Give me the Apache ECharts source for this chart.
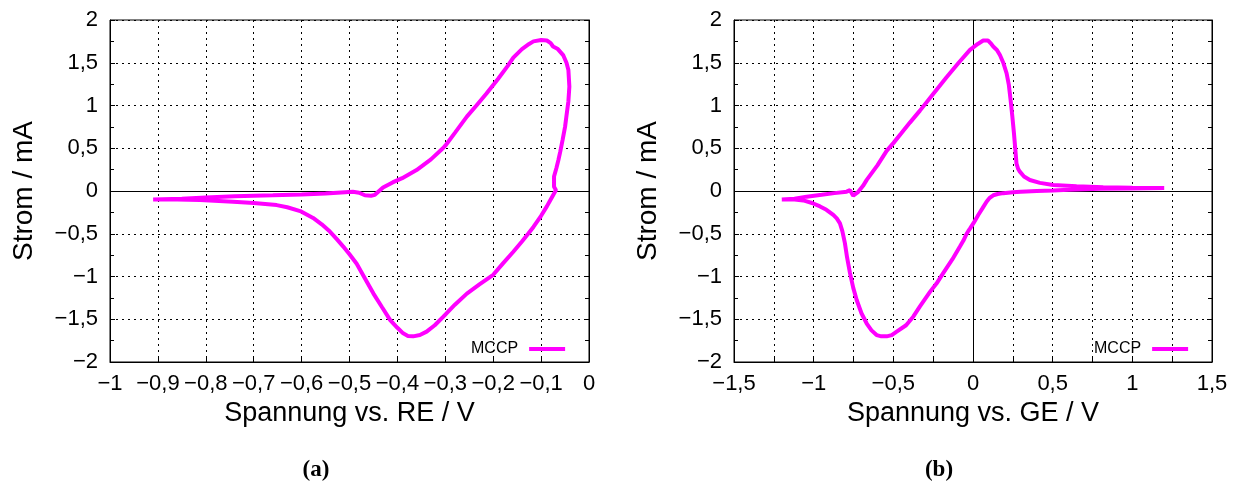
<!DOCTYPE html>
<html>
<head>
<meta charset="utf-8">
<script src="https://cdn.jsdelivr.net/npm/echarts@6/dist/echarts.min.js"></script>
<style>
  html, body { margin: 0; padding: 0; background: #fff; }
  #chart { width: 1237px; height: 483px; }
</style>
</head>
<body>
<div id="chart"></div>
<script>
// (a) potential vs. RE / V and current / mA, one closed loop
const reVoltage = [
  -0.91, -0.85, -0.80, -0.74, -0.66, -0.60, -0.55, -0.493, -0.48, -0.468, -0.455, -0.447,
  -0.43, -0.41, -0.39, -0.36, -0.33, -0.305, -0.30, -0.28, -0.255, -0.235, -0.214, -0.19,
  -0.17, -0.158, -0.14, -0.125, -0.116, -0.10, -0.088, -0.08, -0.075, -0.065, -0.054, -0.047,
  -0.043, -0.041, -0.043, -0.047, -0.05, -0.055, -0.06, -0.064, -0.068, -0.073, -0.073, -0.069,
  -0.075, -0.082, -0.088, -0.10, -0.116, -0.127, -0.14, -0.158, -0.18, -0.20, -0.228, -0.255,
  -0.28, -0.304, -0.322, -0.339, -0.353, -0.367, -0.378, -0.388, -0.40, -0.415, -0.432, -0.45,
  -0.468, -0.485, -0.50, -0.513, -0.527, -0.541, -0.558, -0.576, -0.603, -0.63, -0.652, -0.70,
  -0.743, -0.812, -0.86, -0.91
];
const reCurrent = [
  -0.10, -0.09, -0.075, -0.06, -0.05, -0.04, -0.03, -0.01, -0.02, -0.05, -0.055, -0.045,
  0.04, 0.10, 0.15, 0.245, 0.37, 0.50, 0.53, 0.68, 0.87, 1.0, 1.14, 1.31,
  1.46, 1.56, 1.66, 1.72, 1.75, 1.765, 1.76, 1.73, 1.69, 1.66, 1.59, 1.50,
  1.415, 1.22, 1.05, 0.88, 0.75, 0.60, 0.46, 0.36, 0.27, 0.17, 0.05, 0.01,
  -0.05, -0.12, -0.18, -0.29, -0.42, -0.50, -0.59, -0.71, -0.85, -0.98, -1.09, -1.20,
  -1.33, -1.47, -1.57, -1.645, -1.685, -1.70, -1.695, -1.665, -1.60, -1.51, -1.36, -1.20,
  -1.02, -0.85, -0.74, -0.65, -0.56, -0.475, -0.39, -0.315, -0.235, -0.19, -0.165, -0.14,
  -0.125, -0.105, -0.10, -0.10
];

// (b) potential vs. GE / V and current / mA
const geVoltage = [
  -1.2, -1.12, -1.044, -0.95, -0.87, -0.793, -0.772, -0.752, -0.72, -0.69, -0.667, -0.60,
  -0.542, -0.50, -0.45, -0.396, -0.333, -0.25, -0.166, -0.09, -0.019, 0.03, 0.064, 0.095,
  0.11, 0.127, 0.15, 0.169, 0.19, 0.211, 0.225, 0.236, 0.247, 0.257, 0.265, 0.273,
  0.283, 0.294, 0.32, 0.357, 0.42, 0.503, 0.65, 0.817, 1.0, 1.2,
  1.0, 0.8, 0.6, 0.503, 0.4, 0.3, 0.25, 0.19, 0.155, 0.127, 0.105, 0.085,
  0.06, 0.033, 0.005, -0.019, -0.03, -0.04, -0.06, -0.082, -0.13, -0.187, -0.228, -0.27,
  -0.333, -0.375, -0.42, -0.479, -0.51, -0.542, -0.575, -0.605, -0.637, -0.667, -0.70, -0.73,
  -0.752, -0.772, -0.79, -0.804, -0.82, -0.835, -0.855, -0.877, -0.92, -0.96, -1.01, -1.065,
  -1.12, -1.2
];
const geCurrent = [
  -0.10, -0.09, -0.066, -0.045, -0.025, -0.008, 0.01, -0.055, -0.01, 0.06, 0.13, 0.30,
  0.47, 0.56, 0.675, 0.80, 0.94, 1.135, 1.33, 1.50, 1.65, 1.72, 1.76, 1.76,
  1.73, 1.69, 1.65, 1.59, 1.50, 1.376, 1.24, 1.064, 0.87, 0.675, 0.50, 0.32,
  0.26, 0.226, 0.17, 0.129, 0.095, 0.07, 0.055, 0.043, 0.038, 0.035,
  0.03, 0.025, 0.015, 0.005, 0.0, -0.01, -0.015, -0.025, -0.035, -0.05, -0.08, -0.125,
  -0.2, -0.28, -0.37, -0.44, -0.47, -0.50, -0.58, -0.65, -0.80, -0.96, -1.08, -1.18,
  -1.35, -1.47, -1.57, -1.645, -1.685, -1.70, -1.70, -1.685, -1.63, -1.55, -1.43, -1.275,
  -1.13, -0.96, -0.78, -0.61, -0.47, -0.378, -0.32, -0.28, -0.22, -0.18, -0.14, -0.11,
  -0.10, -0.10
];

const seriesName = 'MCCP';
const captions = ['(a)', '(b)'];

const chart = echarts.init(document.getElementById('chart'));

const FONT = '"Liberation Sans", Arial, Helvetica, sans-serif';
const fmt = (v) => {
  const r = Math.round(v * 100) / 100;
  const s = String(Math.abs(r)).replace('.', ',');
  return (r < 0 ? '\u2212' : '') + s;
};
const fmtHalf = (v) => {
  if (Math.abs(v * 2 - Math.round(v * 2)) > 1e-6) return '';
  return fmt(v);
};

const dash = { color: '#000', type: [2, 4], width: 1 };
const tickLabel = { color: '#000', fontFamily: FONT, fontSize: 22 };

function xAx(idx, min, max, interval, name, formatter) {
  return {
    type: 'value', gridIndex: idx, min, max, interval,
    name, nameLocation: 'middle', nameGap: 35,
    nameTextStyle: { color: '#000', fontFamily: FONT, fontSize: 27 },
    axisLine: { show: true, onZero: false, lineStyle: { color: '#000', width: 1 } },
    axisTick: { show: true, inside: true, length: 5, lineStyle: { color: '#000' } },
    axisLabel: Object.assign({ margin: 11, formatter }, tickLabel),
    splitLine: { show: true, lineStyle: dash }
  };
}
function yAx(idx, right) {
  return {
    type: 'value', gridIndex: idx, min: -2, max: 2, interval: 0.5,
    position: right ? 'right' : 'left',
    name: right ? '' : 'Strom / mA', nameLocation: 'middle', nameGap: 72,
    nameTextStyle: { color: '#000', fontFamily: FONT, fontSize: 28 },
    axisLine: { show: true, onZero: false, lineStyle: { color: '#000', width: 1 } },
    axisTick: { show: true, inside: true, length: 5, lineStyle: { color: '#000' } },
    minorTick: { show: true, splitNumber: 2, length: 4, lineStyle: { color: '#000' } },
    axisLabel: Object.assign({ show: !right, margin: 12, formatter: fmt }, tickLabel),
    splitLine: { show: !right, lineStyle: dash }
  };
}
function pairs(xs, ys) { return xs.map((x, i) => [x, ys[i]]); }

const zeroLine = (lines) => ({
  silent: true, symbol: ['none', 'none'], z: 1,
  label: { show: false },
  lineStyle: { color: '#000', width: 1, type: 'solid' },
  emphasis: { disabled: true },
  data: lines
});

const lineSeries = (xi, yi, data, marks) => ({
  name: seriesName, type: 'line', xAxisIndex: xi, yAxisIndex: yi,
  data, showSymbol: false, symbol: 'none', smooth: false,
  lineStyle: { color: '#ff00ff', width: 4 },
  itemStyle: { color: '#ff00ff' },
  z: 3,
  markLine: zeroLine(marks)
});

const legendBase = {
  data: [seriesName], orient: 'horizontal', align: 'right',
  icon: 'rect', itemWidth: 36, itemHeight: 4, itemGap: 0,
  textStyle: { color: '#000', fontFamily: FONT, fontSize: 16, padding: [0, 6, 0, 0] },
  selectedMode: false
};

chart.setOption({
  animation: false,
  backgroundColor: '#fff',
  grid: [
    { left: 110, top: 20, width: 479, height: 342, show: true, borderColor: '#000', borderWidth: 1 },
    { left: 734, top: 20, width: 478, height: 342, show: true, borderColor: '#000', borderWidth: 1 }
  ],
  xAxis: [
    xAx(0, -1, 0, 0.1, 'Spannung vs. RE / V', fmt),
    xAx(1, -1.5, 1.5, 0.25, 'Spannung vs. GE / V', fmtHalf)
  ],
  yAxis: [yAx(0, false), yAx(0, true), yAx(1, false), yAx(1, true)],
  legend: [
    Object.assign({ left: 466, top: 336 }, legendBase),
    Object.assign({ left: 1089, top: 336 }, legendBase)
  ],
  series: [
    lineSeries(0, 0, pairs(reVoltage, reCurrent), [{ yAxis: 0 }]),
    lineSeries(1, 2, pairs(geVoltage, geCurrent), [{ yAxis: 0 }, { xAxis: 0 }])
  ],
  graphic: [
    { type: 'text', x: 316, y: 470, style: { text: captions[0], fill: '#000', align: 'center', verticalAlign: 'middle', font: 'bold 23px "Liberation Serif", "Times New Roman", serif' } },
    { type: 'text', x: 939, y: 470, style: { text: captions[1], fill: '#000', align: 'center', verticalAlign: 'middle', font: 'bold 23px "Liberation Serif", "Times New Roman", serif' } }
  ]
});
</script>
</body>
</html>
